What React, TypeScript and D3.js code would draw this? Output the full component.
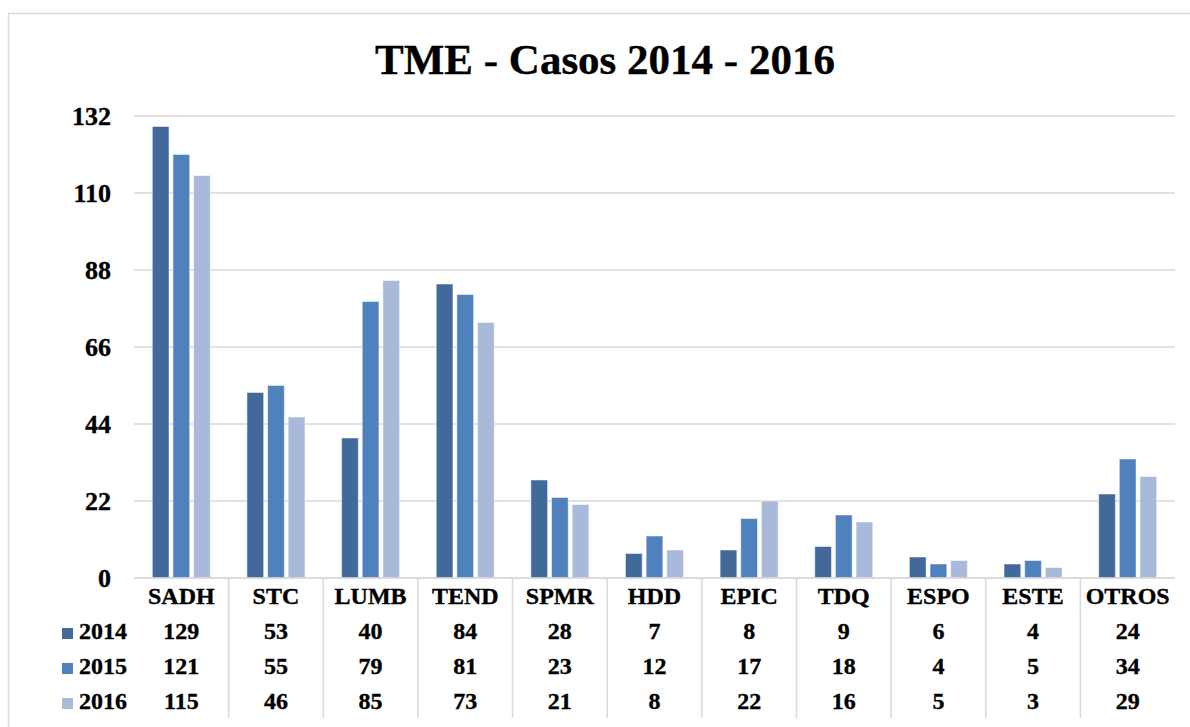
import React from "react";
import * as d3 from "d3";

const categories = ["SADH", "STC", "LUMB", "TEND", "SPMR", "HDD", "EPIC", "TDQ", "ESPO", "ESTE", "OTROS"];
const seriesNames = ["2014", "2015", "2016"];
const values2014 = [129, 53, 40, 84, 28, 7, 8, 9, 6, 4, 24];
const values2015 = [121, 55, 79, 81, 23, 12, 17, 18, 4, 5, 34];
const values2016 = [115, 46, 85, 73, 21, 8, 22, 16, 5, 3, 29];
const yTicks = [0, 22, 44, 66, 88, 110, 132];
const title = "TME - Casos 2014 - 2016";

const seriesValues = [values2014, values2015, values2016];
const colors = ["#416a9b", "#4f81bd", "#a9b9d9"];

const W = 1190;
const H = 727;
const plotLeft = 134;
const plotRight = 1175;
const plotTop = 116;
const plotBottom = 578;
const font = "'Liberation Serif', 'Times New Roman', serif";

export default function App() {
  const x = d3
    .scaleBand<string>()
    .domain(categories)
    .range([plotLeft, plotRight])
    .paddingInner(0.387)
    .paddingOuter(0.387 / 2);
  const xs = d3
    .scaleBand<string>()
    .domain(seriesNames)
    .range([0, x.bandwidth()])
    .paddingInner(0.19)
    .paddingOuter(0);
  const y = d3.scaleLinear().domain([0, 132]).range([plotBottom, plotTop]);
  const step = x.step();
  const rowY = [639, 674, 709];
  const textStroke = { stroke: "#000", strokeWidth: 0.35 };

  return (
    <svg
      width={W}
      height={H}
      style={{ position: "absolute", left: 0, top: 0, background: "#fff" }}
      fontFamily={font}
      fontWeight="bold"
    >
      <rect x={0} y={0} width={W} height={H} fill="#fff" />
      <rect x={8.5} y={13.5} width={1195} height={730} fill="none" stroke="#d9d9d9" strokeWidth={1.5} />
      <text x={605} y={74} textAnchor="middle" fontSize={43} fill="#000" {...textStroke}>
        {title}
      </text>
      {yTicks.map((t) => (
        <g key={t}>
          <line x1={plotLeft} x2={plotRight} y1={y(t)} y2={y(t)} stroke="#d9d9d9" strokeWidth={1.5} />
          <text x={111} y={y(t) + 9} textAnchor="end" fontSize={26} fill="#000" {...textStroke}>
            {t}
          </text>
        </g>
      ))}
      {categories.map((c, i) => (
        <g key={c}>
          {seriesNames.map((s, j) => (
            <rect
              key={s}
              x={(x(c) as number) + (xs(s) as number)}
              y={y(seriesValues[j][i])}
              width={xs.bandwidth()}
              height={plotBottom - y(seriesValues[j][i])}
              fill={colors[j]}
              stroke="#ffffff"
              strokeOpacity={0.5}
              strokeWidth={1}
            />
          ))}
        </g>
      ))}
      {categories.map((c, i) =>
        i > 0 ? (
          <line
            key={"sep" + c}
            x1={plotLeft + i * step}
            x2={plotLeft + i * step}
            y1={plotBottom}
            y2={718}
            stroke="#d9d9d9"
            strokeWidth={1.5}
          />
        ) : null
      )}
      {categories.map((c) => (
        <text
          key={"lab" + c}
          x={(x(c) as number) + x.bandwidth() / 2}
          y={604}
          textAnchor="middle"
          fontSize={24}
          fill="#000"
          {...textStroke}
        >
          {c}
        </text>
      ))}
      {seriesNames.map((s, j) => (
        <g key={"row" + s}>
          <rect x={62} y={rowY[j] - 11} width={11} height={11} fill={colors[j]} />
          <text x={79} y={rowY[j]} fontSize={24} fill="#000" {...textStroke}>
            {s}
          </text>
          {categories.map((c, i) => (
            <text
              key={c}
              x={(x(c) as number) + x.bandwidth() / 2}
              y={rowY[j]}
              textAnchor="middle"
              fontSize={24}
              fill="#000"
              {...textStroke}
            >
              {seriesValues[j][i]}
            </text>
          ))}
        </g>
      ))}
      <line x1={plotLeft} x2={plotRight} y1={plotBottom} y2={plotBottom} stroke="#d9d9d9" strokeWidth={1.5} />
    </svg>
  );
}
